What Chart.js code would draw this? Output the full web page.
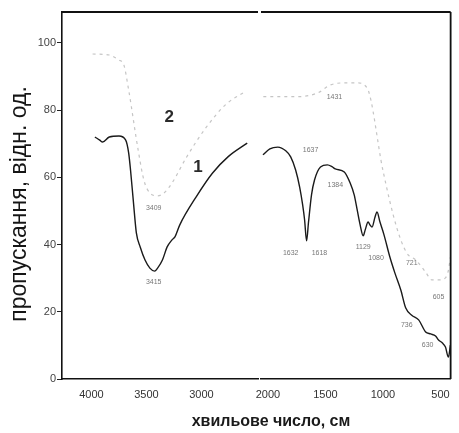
<!DOCTYPE html>
<html lang="uk">
<head>
<meta charset="utf-8">
<title>ІЧ-спектри</title>
<script src="https://cdn.jsdelivr.net/npm/chart.js@4.4.1/dist/chart.umd.min.js"></script>
<style>
  html, body { margin: 0; padding: 0; background: #fff; }
  #wrap { position: relative; width: 459px; height: 433px; overflow: hidden; }
  #wrap canvas { position: absolute; left: 0; top: 0; }
  #xtitle {
    position: absolute; left: 271px; top: 412px; transform: translateX(-50%);
    font: bold 16px 'Liberation Sans', Arial, sans-serif; color: #1a1a1a;
    white-space: nowrap; line-height: 18px;
  }
</style>
</head>
<body>
<div id="wrap">
  <canvas id="left" width="459" height="433"></canvas>
  <canvas id="right" width="459" height="433"></canvas>
  <div id="xtitle">хвильове число, см</div>
</div>
<script>
// === Дані ===
// крива 1, ділянка 4000–2500 см-1
const wave1Left  = [3969, 3925, 3899, 3838, 3750, 3689, 3662, 3645, 3618, 3592, 3557, 3513, 3469, 3426, 3399, 3355, 3312, 3268, 3241, 3198, 3048, 2899, 2759, 2584];
const trans1Left = [72.0, 71.1, 70.5, 72.0, 72.3, 71.1, 67.3, 62.2, 52.4, 43.5, 39.3, 35.4, 33.0, 32.1, 33.0, 35.4, 39.3, 41.4, 42.3, 45.8, 54.2, 61.3, 66.1, 70.2];
// крива 1, ділянка 2000–400 см-1
const wave1Right  = [2043, 1983, 1914, 1845, 1802, 1759, 1724, 1698, 1681, 1664, 1647, 1621, 1595, 1543, 1483, 1440, 1414, 1336, 1285, 1250, 1224, 1198, 1172, 1155, 1129, 1112, 1095, 1069, 1052, 1026, 991, 940, 896, 845, 802, 750, 690, 629, 586, 543, 517, 483, 457, 431, 414];
const trans1Right = [66.7, 68.5, 69.0, 67.9, 66.1, 62.2, 57.1, 51.8, 47.3, 41.1, 46.7, 54.8, 59.2, 63.1, 63.7, 63.1, 62.5, 61.6, 58.3, 54.8, 50.3, 45.8, 42.6, 44.3, 46.7, 45.8, 45.2, 48.2, 49.7, 46.7, 42.9, 36.3, 31.5, 26.5, 21.1, 19.0, 17.6, 14.0, 13.4, 12.8, 11.6, 10.7, 9.5, 6.5, 10.1];
// крива 2 (бліда)
const wave2Left  = [3990, 3838, 3750, 3706, 3662, 3575, 3522, 3470, 3399, 3338, 3268, 3136, 2961, 2785, 2610];
const trans2Left = [96.7, 96.4, 94.9, 93.5, 86.0, 68.0, 59.0, 55.4, 54.5, 55.4, 58.3, 66.0, 74.7, 81.5, 85.4];
const wave2Right  = [2040, 1750, 1569, 1457, 1336, 1224, 1138, 1000, 880, 793, 715, 629, 577, 517, 457, 431, 414];
const trans2Right = [84.0, 84.0, 85.1, 87.5, 88.1, 88.1, 86.6, 62.0, 45.0, 37.5, 35.4, 31.8, 29.5, 29.5, 30.1, 32.4, 36.3];

const xTicksLeft  = [4000, 3500, 3000];
const xTicksRight = [2000, 1500, 1000, 500];
const yTicks = [0, 20, 40, 60, 80, 100];

// підписи піків: [текст, хвильове число, пропускання]
const labelsLeft  = [['2', 3294, 78.0, 'curve'], ['1', 3031, 63.1, 'curve'], ['3409', 3434, 50.9], ['3415', 3434, 28.9]];
const labelsRight = [['1431', 1422, 83.9], ['1637', 1629, 68.2], ['1384', 1414, 57.7], ['1632', 1802, 37.5], ['1618', 1552, 37.5],
                     ['1129', 1172, 39.3], ['1080', 1060, 36.0], ['721', 750, 34.5], ['605', 517, 24.4], ['736', 793, 16.1], ['630', 612, 10.1]];

const yTitle = 'пропускання, відн. од.';

const toXY = (xs, ys) => xs.map((x, i) => ({ x: x, y: ys[i] }));

// рамка, назва осі Y та підписи піків
const framePlugin = {
    id: 'frame',
    afterDatasetsDraw(chart, args, opts) {
        const { ctx, chartArea: a, scales: { x, y } } = chart;
        ctx.save();
        ctx.strokeStyle = '#111';
        ctx.lineWidth = 1.8;
        ctx.beginPath();
        ctx.moveTo(a.left, a.top);
        ctx.lineTo(a.right, a.top);
        if (opts.rightEdge) {
            ctx.moveTo(a.right, a.top);
            ctx.lineTo(a.right, a.bottom);
        }
        ctx.stroke();

        ctx.textAlign = 'center';
        ctx.textBaseline = 'middle';
        (opts.labels || []).forEach(([text, wx, wy, kind]) => {
            if (kind === 'curve') {
                ctx.font = "bold 17px 'Liberation Sans', Arial, sans-serif";
                ctx.fillStyle = '#2a2a2a';
            } else {
                ctx.font = "7px 'Liberation Sans', Arial, sans-serif";
                ctx.fillStyle = '#777';
            }
            ctx.fillText(text, x.getPixelForValue(wx), y.getPixelForValue(wy));
        });

        if (opts.yTitle) {
            ctx.translate(20, 204);
            ctx.rotate(-Math.PI / 2);
            ctx.font = "23px 'Liberation Sans', Arial, sans-serif";
            ctx.fillStyle = '#151515';
            ctx.fillText(opts.yTitle, 0, 0);
        }
        ctx.restore();
    }
};

const tickFont = { family: "'Liberation Sans', Arial, sans-serif", size: 11 };

function makeChart(id, o) {
    return new Chart(document.getElementById(id), {
        type: 'line',
        data: {
            datasets: [
                { label: '2', data: o.curve2, borderColor: 'rgba(90,90,90,0.35)', borderWidth: 1.2, borderDash: [3, 4] },
                { label: '1', data: o.curve1, borderColor: '#1a1a1a', borderWidth: 1.4 }
            ]
        },
        options: {
            responsive: false,
            animation: false,
            devicePixelRatio: 1,
            layout: { padding: o.padding },
            elements: {
                point: { radius: 0 },
                line: { cubicInterpolationMode: 'monotone', fill: false }
            },
            plugins: {
                legend: { display: false },
                tooltip: { enabled: false },
                frame: { labels: o.labels, rightEdge: o.rightEdge, yTitle: o.yTitle }
            },
            scales: {
                x: {
                    type: 'linear',
                    reverse: true,
                    min: o.xMin,
                    max: o.xMax,
                    afterBuildTicks: s => { s.ticks = o.xTicks.map(v => ({ value: v })); },
                    afterFit: s => { s.height = 54; },
                    grid: { display: false, drawTicks: false },
                    border: { display: true, color: '#111', width: 1.6 },
                    ticks: { font: tickFont, color: '#333', padding: 9, maxRotation: 0, autoSkip: false, callback: v => String(v) }
                },
                y: {
                    display: o.showY,
                    min: 0,
                    max: 109.2,
                    afterBuildTicks: s => { s.ticks = yTicks.map(v => ({ value: v })); },
                    afterFit: s => { if (o.showY) s.width = 62; },
                    grid: { display: true, drawOnChartArea: false, drawTicks: true, tickLength: 5, color: '#222' },
                    border: { display: true, color: '#111', width: 1.6 },
                    ticks: { font: tickFont, color: '#444', padding: 1, callback: v => String(v) }
                }
            }
        },
        plugins: [framePlugin]
    });
}

makeChart('left', {
    xMin: 2486, xMax: 4268, xTicks: xTicksLeft,
    curve1: toXY(wave1Left, trans1Left), curve2: toXY(wave2Left, trans2Left),
    labels: labelsLeft, showY: true, rightEdge: false, yTitle: yTitle,
    padding: { left: 0, right: 201, top: 12, bottom: 0 }
});

makeChart('right', {
    xMin: 412, xMax: 2060, xTicks: xTicksRight,
    curve1: toXY(wave1Right, trans1Right), curve2: toXY(wave2Right, trans2Right),
    labels: labelsRight, showY: false, rightEdge: true,
    padding: { left: 261, right: 6, top: 12, bottom: 0 }
});
</script>
</body>
</html>
